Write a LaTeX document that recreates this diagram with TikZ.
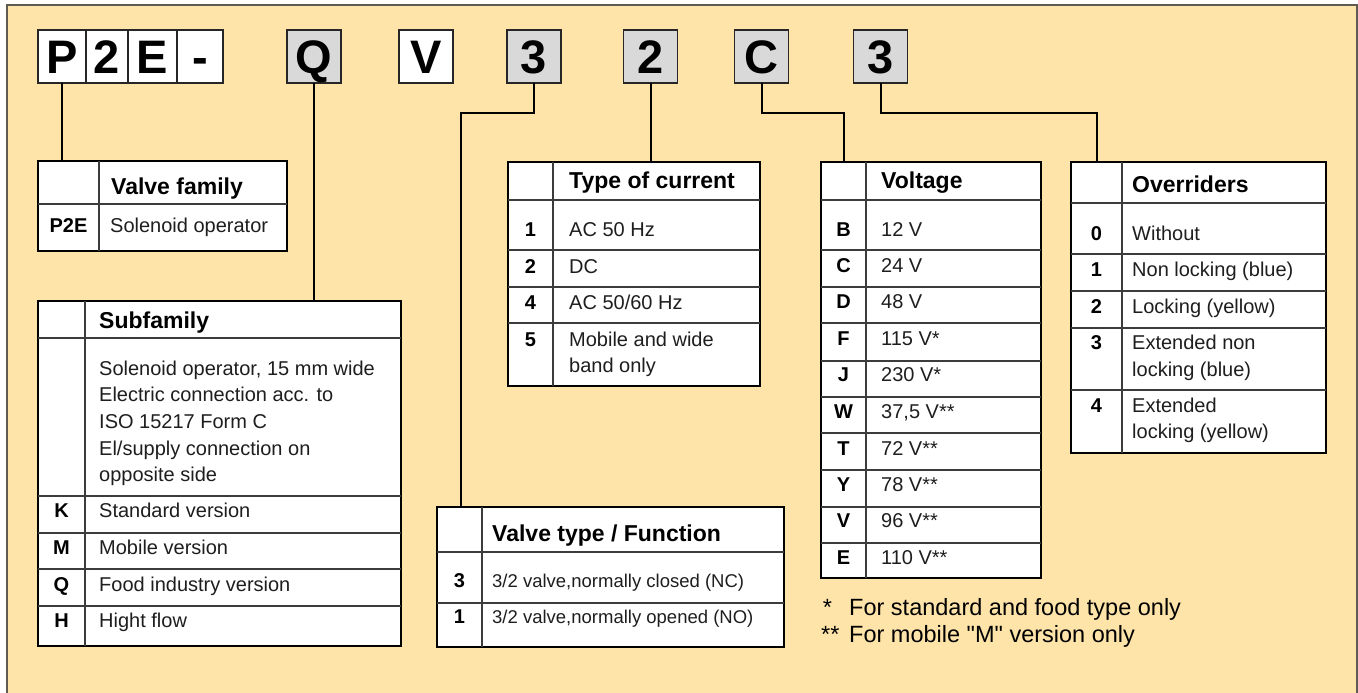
\documentclass[tikz,border=0pt]{standalone}
\usepackage{fontspec}
\setmainfont{Liberation Sans}
\usetikzlibrary{positioning, calc}

\definecolor{bgcream}{RGB}{254,228,169}
\definecolor{boxgray}{RGB}{217,217,217}
\definecolor{framegray}{RGB}{95,90,82}
\definecolor{rulegray}{RGB}{60,60,60}
\definecolor{txtgray}{RGB}{30,30,30}

\begin{document}
\begin{tikzpicture}[
    x=1pt, y=-1pt,
    codebox/.style={
        draw=black!85,
        line width=1.2pt,
        fill=white,
        minimum width=54pt,
        minimum height=53pt,
        inner sep=0pt,
        outer sep=0pt,
        text height=34pt,
        text depth=0pt,
        font=\bfseries\fontsize{47}{47}\selectfont
    },
    codegray/.style={codebox, fill=boxgray},
    tbl/.style={
        draw=black,
        line width=1.5pt,
        fill=white,
        anchor=north west,
        inner sep=0pt,
        outer sep=0pt
    },
    rule/.style={draw=rulegray, line width=1.2pt},
    head/.style={anchor=base west, inner sep=0pt, font=\bfseries\fontsize{23}{26}\selectfont},
    key/.style={anchor=base, inner sep=0pt, font=\bfseries\fontsize{20}{24}\selectfont},
    desc/.style={anchor=base west, inner sep=0pt, text=txtgray, align=left, font=\fontsize{20}{26.6}\selectfont},
    descsm/.style={desc, font=\fontsize{18.5}{22}\selectfont},
    note/.style={anchor=base west, inner sep=0pt, font=\fontsize{23.5}{28}\selectfont},
    link/.style={line width=2pt, black}
]

\useasboundingbox (0,0) rectangle (1358,693);
\fill[bgcream] (7,5) rectangle (1357,700);
\draw[framegray, line width=1.5pt] (7,5) rectangle (1357,700);

% order code
\node[codebox, minimum width=48pt] (cP) at (62,56.5) {P};
\node[codebox, minimum width=42pt, right=0pt of cP] (cTwo) {2};
\node[codebox, minimum width=49pt, right=0pt of cTwo] (cE) {E};
\node[codebox, minimum width=46pt, right=0pt of cE] (cDash) {-};
\node[codegray] (cQ) at (314,56.5) {Q};
\node[codebox] (cV) at (426,56.5) {V};
\node[codegray] (cFunc) at (534,56.5) {3};
\node[codegray] (cCur) at (650.5,56.5) {2};
\node[codegray] (cVolt) at (761.5,56.5) {C};
\node[codegray] (cOvr) at (880.5,56.5) {3};

% tables
\node[tbl, minimum width=249pt, minimum height=90pt] (tFam) at (38,161) {};
\node[tbl, minimum width=363pt, minimum height=345pt] (tSub) at (38,301) {};
\node[tbl, minimum width=252pt, minimum height=224pt] (tCur) at (508,162) {};
\node[tbl, minimum width=347pt, minimum height=140pt] (tFunc) at (437,507) {};
\node[tbl, minimum width=220pt, minimum height=416pt] (tVolt) at (821,162) {};
\node[tbl, minimum width=255pt, minimum height=291pt] (tOvr) at (1071,162) {};

\draw[rule] (99,161) -- (99,251) (38,204) -- (287,204);
\draw[rule] (85,301) -- (85,646) (38,338) -- (401,338);
\foreach \yr in {496,533,569,606} \draw[rule] (38,\yr) -- (401,\yr);
\draw[rule] (553,162) -- (553,386) (508,200) -- (760,200);
\foreach \yr in {250,287,323} \draw[rule] (508,\yr) -- (760,\yr);
\draw[rule] (482,507) -- (482,647) (437,552) -- (784,552) (437,603) -- (784,603);
\draw[rule] (866,162) -- (866,578) (821,200) -- (1041,200);
\foreach \yr in {250,287,323,361,397,433,470,507,543} \draw[rule] (821,\yr) -- (1041,\yr);
\draw[rule] (1122,162) -- (1122,453) (1071,203) -- (1326,203);
\foreach \yr in {254,291,328,390} \draw[rule] (1071,\yr) -- (1326,\yr);

% connectors
\coordinate (kneeFunc) at (461,113);
\coordinate (kneeVolt) at (844,113);
\coordinate (kneeOvr) at (1097,113);
\draw[link] (cP.south) -- (cP.south |- tFam.north);
\draw[link] (cQ.south) -- (cQ.south |- tSub.north);
\draw[link] (cFunc.south) |- (kneeFunc) -- (kneeFunc |- tFunc.north);
\draw[link] (cCur.south) -- (cCur.south |- tCur.north);
\draw[link] (cVolt.south) |- (kneeVolt) -- (kneeVolt |- tVolt.north);
\draw[link] (cOvr.south) |- (kneeOvr) -- (kneeOvr |- tOvr.north);

% valve family
\node[head] (famHead) at (111,194) {Valve family};
\node[key] (famKey) at (68.5,232) {P2E};
\node[desc] (famText) at (110,232) {Solenoid operator};

% subfamily
\node[head] (subHead) at (99,328) {Subfamily};
\node[desc] (subText) at (99,481.7) {Solenoid operator, 15 mm wide\\Electric connection acc. to\\ISO 15217 Form C\\El/supply connection on\\opposite side};
\foreach \k/\t/\yb [count=\i] in {K/Standard version/517.7, M/Mobile version/554, Q/Food industry version/591, H/Hight flow/627.7} {
    \node[key] (subKey\i) at (61.5,\yb) {\k};
    \node[desc] (subRow\i) at (99,\yb) {\t};
}

% type of current
\node[head] (curHead) at (569,188) {Type of current};
\foreach \k/\t/\yb [count=\i] in {1/AC 50 Hz/236, 2/DC/273, 4/{AC 50/60 Hz}/309, 5/Mobile and wide/346} {
    \node[key] (curKey\i) at (530.5,\yb) {\k};
    \node[desc] (curRow\i) at (569,\yb) {\t};
}
\node[desc] (curRow5b) at (569,372.6) {band only};

% valve type / function
\node[head] (funcHead) at (492,541) {Valve type / Function};
\foreach \k/\t/\yb [count=\i] in {3/{3/2 valve,normally closed (NC)}/587.7, 1/{3/2 valve,normally opened (NO)}/623} {
    \node[key] (funcKey\i) at (459.5,\yb) {\k};
    \node[descsm] (funcRow\i) at (492,\yb) {\t};
}

% voltage
\node[head] (voltHead) at (881,188) {Voltage};
\foreach \k/\t/\yb [count=\i] in {B/12 V/236, C/24 V/272.7, D/48 V/308, F/115 V*/345, J/230 V*/381.7, W/{37,5 V**}/418, T/72 V**/455, Y/78 V**/491.7, V/96 V**/527, E/110 V**/564} {
    \node[key] (voltKey\i) at (843.5,\yb) {\k};
    \node[desc] (voltRow\i) at (881,\yb) {\t};
}

% overriders
\node[head] (ovrHead) at (1132,192.7) {Overriders};
\foreach \k/\t/\yb [count=\i] in {0/Without/240, 1/Non locking (blue)/276.7, 2/Locking (yellow)/313, 3/Extended non/349.3, 4/Extended/412.7} {
    \node[key] (ovrKey\i) at (1096.5,\yb) {\k};
    \node[desc] (ovrRow\i) at (1132,\yb) {\t};
}
\node[desc] (ovrRow3b) at (1132,376) {locking (blue)};
\node[desc] (ovrRow4b) at (1132,438.5) {locking (yellow)};

% notes
\node[note] (starA) at (822.7,615) {*};
\node[note] (noteA) at (849,615) {For standard and food type only};
\node[note] (starB) at (821,642.7) {**};
\node[note] (noteB) at (849,642.7) {For mobile \textquotedbl M\textquotedbl{} version only};

\end{tikzpicture}
\end{document}
